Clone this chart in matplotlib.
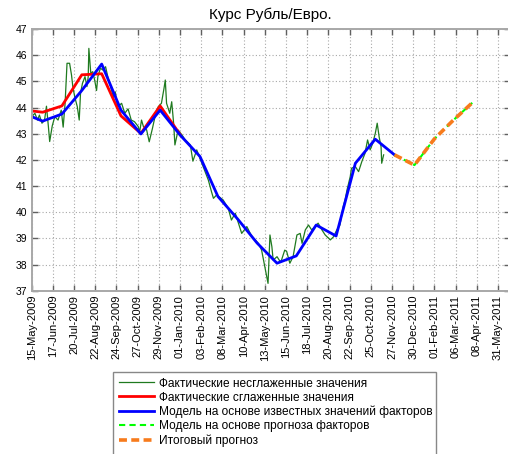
import matplotlib
matplotlib.use("Agg")
import matplotlib.pyplot as plt
from matplotlib.patches import Rectangle
import pandas as pd

plt.rcParams["font.family"] = ["Liberation Sans", "DejaVu Sans"]

START = pd.Timestamp("2009-05-15")

# raw daily rate (days after START, value)
RAW_DAYS = [0, 5, 9, 12, 16, 20, 23, 26, 28, 32, 36, 41, 46, 49, 52, 55, 59,
            62, 64, 67, 71, 74, 76, 79, 83, 86, 88, 89, 92, 95, 98, 101, 103,
            107, 111, 115, 119, 123, 127, 130, 134, 140, 145, 150, 155, 160,
            166, 168, 171, 174, 179, 183, 188, 192, 197, 202, 206, 208, 210,
            215, 218, 221, 223, 228, 234, 239, 247, 251, 257, 259, 267, 275,
            280, 283, 288, 298, 306, 311, 317, 327, 335, 343, 353, 358, 363,
            368, 371, 374, 376, 382, 387, 389, 394, 397, 402, 407, 413, 418,
            421, 426, 431, 436, 441, 446, 452, 457, 465, 470, 475, 480, 485,
            488, 491, 496, 498, 504, 509, 514, 519, 523, 527, 531, 535, 538,
            541, 544, 545, 548]
RAW_VALS = [43.65, 43.78, 43.52, 43.71, 43.40, 43.52, 44.05, 43.27, 42.70,
            43.30, 43.65, 43.52, 43.90, 43.25, 44.16, 45.69, 45.69, 45.24,
            44.80, 44.41, 44.03, 43.52, 44.54, 44.92, 45.18, 44.80, 45.18,
            46.26, 45.31, 45.37, 45.05, 44.65, 45.18, 45.50, 45.43, 45.56,
            45.12, 44.80, 44.41, 44.60, 44.03, 44.16, 43.78, 43.95, 43.52,
            43.46, 43.27, 43.05, 43.52, 43.27, 43.14, 42.69, 43.20, 43.65,
            44.03, 44.16, 44.73, 45.05, 44.16, 43.78, 44.22, 43.40, 42.57,
            43.14, 42.95, 42.76, 42.57, 41.95, 42.38, 42.25, 41.74, 41.23,
            40.78, 40.53, 40.66, 40.47, 40.15, 39.70, 39.96, 39.19, 39.45,
            39.06, 38.81, 38.55, 37.92, 37.28, 39.13, 38.68, 38.17, 38.30,
            38.11, 38.17, 38.55, 38.50, 38.05, 38.30, 39.13, 39.19, 38.81,
            39.32, 39.51, 39.32, 39.45, 39.58, 39.32, 39.13, 38.94, 39.06,
            39.32, 39.51, 40.21, 40.47, 40.85, 41.36, 41.68, 41.74, 41.55,
            41.93, 42.25, 42.76, 42.38, 42.63, 43.01, 43.40, 42.88, 42.50,
            41.87, 42.19]

# smoothed actual (monthly knots)
SMOOTH_DATES = ["2009-05-15", "2009-06-01", "2009-07-01", "2009-08-01",
                "2009-09-01", "2009-10-01", "2009-11-01", "2009-12-01",
                "2010-01-01"]
SMOOTH_VALS = [43.87, 43.82, 44.06, 45.25, 45.29, 43.68, 43.01, 44.06, 42.97]

# model on known factor values
MODEL_DATES = ["2009-05-15", "2009-06-01", "2009-07-01", "2009-08-01",
               "2009-09-01", "2009-10-01", "2009-11-01", "2009-12-01",
               "2010-01-01", "2010-02-01", "2010-03-01", "2010-04-01",
               "2010-05-01", "2010-06-01", "2010-07-01", "2010-08-01",
               "2010-09-01", "2010-10-01", "2010-11-01", "2010-12-01"]
MODEL_VALS = [43.65, 43.48, 43.75, 44.65, 45.66, 43.90, 42.99, 43.90, 42.95,
              42.13, 40.60, 39.73, 38.82, 38.05, 38.33, 39.51, 39.09, 41.87,
              42.79, 42.19]

# forecast (factor forecast model and final forecast coincide)
FC_DATES = ["2010-12-01", "2011-01-01", "2011-02-01", "2011-03-01",
            "2011-04-01"]
FC_VALS = [42.19, 41.80, 42.80, 43.48, 44.18]

TICK_LABELS = ["15-May-2009", "17-Jun-2009", "20-Jul-2009", "22-Aug-2009",
               "24-Sep-2009", "27-Oct-2009", "29-Nov-2009", "01-Jan-2010",
               "03-Feb-2010", "08-Mar-2010", "10-Apr-2010", "13-May-2010",
               "15-Jun-2010", "18-Jul-2010", "20-Aug-2010", "22-Sep-2010",
               "25-Oct-2010", "27-Nov-2010", "30-Dec-2010", "01-Feb-2011",
               "06-Mar-2011", "08-Apr-2011", "31-May-2011"]
TICK_STEP_DAYS = 33
Y_TICKS = list(range(37, 48))

LABELS = ["Фактические несглаженные значения",
          "Фактические сглаженные значения",
          "Модель на основе известных значений факторов",
          "Модель на основе прогноза факторов",
          "Итоговый прогноз"]

W, H = 508, 454
fig = plt.figure(figsize=(W / 100, H / 100), dpi=100)
ax_l, ax_r, ax_t, ax_b = 31.7, 509.5, 29.0, 290.7
ax = fig.add_axes([ax_l / W, 1 - ax_b / H, (ax_r - ax_l) / W, (ax_b - ax_t) / H])

raw_x = START + pd.to_timedelta(RAW_DAYS, unit="D")
h1, = ax.plot(raw_x, RAW_VALS, color="#1f7a1f", lw=0.9)
h2, = ax.plot(pd.to_datetime(SMOOTH_DATES), SMOOTH_VALS, color="#ff0000", lw=2)
h3, = ax.plot(pd.to_datetime(MODEL_DATES), MODEL_VALS, color="#0000ff", lw=2)
fc_x = pd.to_datetime(FC_DATES)
h4, = ax.plot(fc_x, FC_VALS, color="#00ff00", lw=1.5, ls=(0, (3, 2)))
h5, = ax.plot(fc_x, FC_VALS, color="#f77b1c", lw=2.6, ls=(0, (2.2, 1.2)))

ticks = [START + pd.Timedelta(days=TICK_STEP_DAYS * k) for k in range(len(TICK_LABELS))]
ax.set_xticks(ticks)
ax.set_xticklabels(TICK_LABELS, rotation=90, fontsize=8)
ax.set_xlim(START, START + pd.Timedelta(days=744))
ax.set_ylim(37, 47)
ax.set_yticks(Y_TICKS)
ax.set_yticklabels([str(v) for v in Y_TICKS], fontsize=7.5)
ax.tick_params(direction="in", length=4, width=1, color="#606060",
               top=True, right=True, pad=3)
ax.grid(True, ls=(0, (1, 2)), color="#a8a8a8", lw=0.8)
for s in ax.spines.values():
    s.set_color("#a8a8a8")
    s.set_linewidth(1.4)

fig.text(0.5 * (ax_l + ax_r) / W, 1 - 15 / H, "Курс Рубль/Евро.",
         ha="center", va="center", fontsize=11)

# legend frame runs off the bottom of the picture
fig.patches.append(Rectangle((113.3 / W, -0.05), (436 - 113.3) / W,
                             0.05 + 1 - 371.7 / H, transform=fig.transFigure,
                             fill=False, edgecolor="#888888", lw=1))
fig.legend([h1, h2, h3, h4, h5], LABELS, loc="upper left",
           bbox_to_anchor=(115 / W, 1 - 374 / H), frameon=False,
           fontsize=8.6, handlelength=3.0, handletextpad=0.35,
           labelspacing=0.17, borderpad=0.3, borderaxespad=0)

fig.savefig("out.png", dpi=100)
